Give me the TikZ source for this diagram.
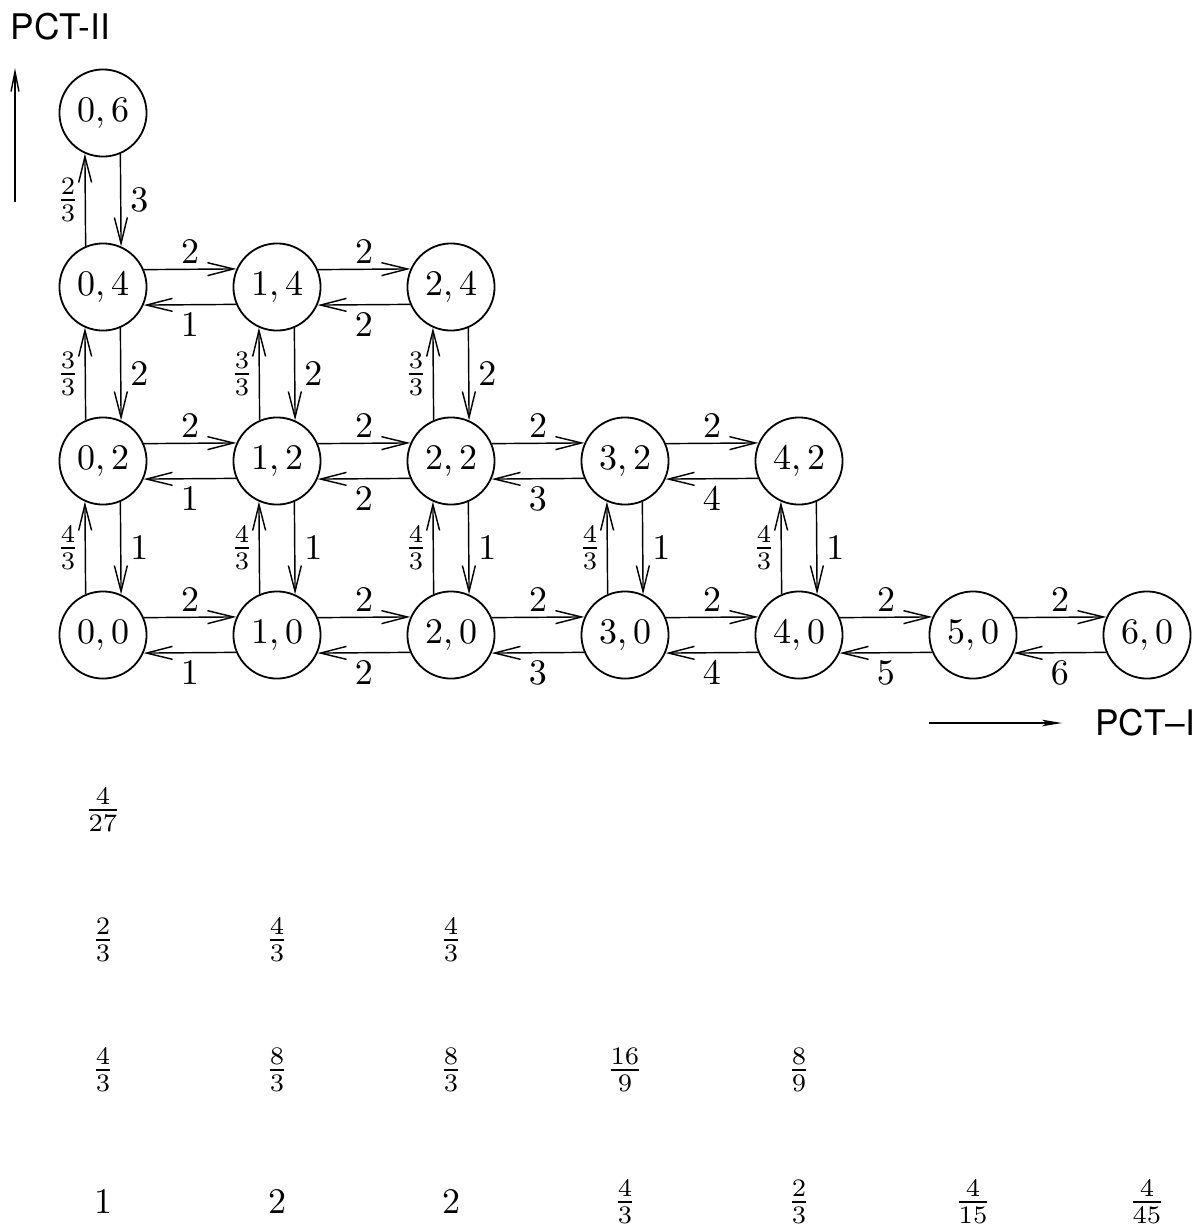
\documentclass[tikz,border=0pt]{standalone}
\usepackage{fontspec}
\newfontfamily\hvfont{TeX Gyre Heros}
\usetikzlibrary{arrows.meta}
\newcommand\hpair[4]{%
  \draw[tr] (#1.23.7) -- (#2.156.3) node[lu]{$#3$};
  \draw[tr] (#2.203.7) -- (#1.336.3) node[ld]{$#4$};}
\newcommand\vpair[4]{%
  \draw[tr] (#1.113.7) -- (#2.246.3) node[ll]{$#3$};
  \draw[tr] (#2.293.7) -- (#1.66.3) node[lr]{$#4$};}
\begin{document}
\begin{tikzpicture}[x=0.2778pt,y=-0.2778pt,
  st/.style={circle,draw,line width=0.5pt,minimum size=24.2pt,inner sep=0pt},
  tr/.style={line width=0.4pt,-{Straight Barb[length=7.2pt,width=3.6pt]}},
  lu/.style={midway,yshift=4.7pt},
  ld/.style={midway,yshift=-5.6pt},
  ll/.style={midway,xshift=-4.8pt},
  lr/.style={midway,xshift=5.2pt},
  ax/.style={font=\hvfont\fontsize{9.8}{11}\selectfont,inner sep=0pt},
  val/.style={inner sep=0pt}]
\useasboundingbox (0,0) rectangle (1198,1224);
% states
\node[st] (n00) at (103,635) {$0,0$};
\node[st] (n10) at (277,635) {$1,0$};
\node[st] (n20) at (451,635) {$2,0$};
\node[st] (n30) at (625,635) {$3,0$};
\node[st] (n40) at (799,635) {$4,0$};
\node[st] (n50) at (973,635) {$5,0$};
\node[st] (n60) at (1147,635) {$6,0$};
\node[st] (n02) at (103,461) {$0,2$};
\node[st] (n12) at (277,461) {$1,2$};
\node[st] (n22) at (451,461) {$2,2$};
\node[st] (n32) at (625,461) {$3,2$};
\node[st] (n42) at (799,461) {$4,2$};
\node[st] (n04) at (103,287) {$0,4$};
\node[st] (n14) at (277,287) {$1,4$};
\node[st] (n24) at (451,287) {$2,4$};
\node[st] (n06) at (103,113) {$0,6$};
% horizontal transitions
\hpair{n00}{n10}{2}{1}
\hpair{n10}{n20}{2}{2}
\hpair{n20}{n30}{2}{3}
\hpair{n30}{n40}{2}{4}
\hpair{n40}{n50}{2}{5}
\hpair{n50}{n60}{2}{6}
\hpair{n02}{n12}{2}{1}
\hpair{n12}{n22}{2}{2}
\hpair{n22}{n32}{2}{3}
\hpair{n32}{n42}{2}{4}
\hpair{n04}{n14}{2}{1}
\hpair{n14}{n24}{2}{2}
% vertical transitions
\vpair{n00}{n02}{\frac{4}{3}}{1}
\vpair{n02}{n04}{\frac{3}{3}}{2}
\vpair{n04}{n06}{\frac{2}{3}}{3}
\vpair{n10}{n12}{\frac{4}{3}}{1}
\vpair{n12}{n14}{\frac{3}{3}}{2}
\vpair{n20}{n22}{\frac{4}{3}}{1}
\vpair{n22}{n24}{\frac{3}{3}}{2}
\vpair{n30}{n32}{\frac{4}{3}}{1}
\vpair{n40}{n42}{\frac{4}{3}}{1}
% axes
\node[ax,anchor=west] (t2) at (10,27) {PCT-II};
\coordinate (ya) at (15,202);
\coordinate (yb) at (15,68);
\draw[line width=0.4pt,-{Straight Barb[length=5.5pt,width=2.2pt]}] (ya) -- (yb);
\coordinate (xa) at (929,723);
\coordinate (xb) at (1062,723);
\draw[line width=0.4pt,-{Stealth[length=5.5pt,width=1.8pt,inset=1.2pt]}] (xa) -- (xb);
\node[ax,anchor=east] (t1) at (1196,723) {PCT–I};
% values
\node[val] (f06) at (103,810) {$\frac{4}{27}$};
\node[val] (f04) at (103,940) {$\frac{2}{3}$};
\node[val] (f14) at (277,940) {$\frac{4}{3}$};
\node[val] (f24) at (451,940) {$\frac{4}{3}$};
\node[val] (f02) at (103,1070) {$\frac{4}{3}$};
\node[val] (f12) at (277,1070) {$\frac{8}{3}$};
\node[val] (f22) at (451,1070) {$\frac{8}{3}$};
\node[val] (f32) at (625,1070) {$\frac{16}{9}$};
\node[val] (f42) at (799,1070) {$\frac{8}{9}$};
\node[val] (f00) at (103,1202) {$1$};
\node[val] (f10) at (277,1202) {$2$};
\node[val] (f20) at (451,1202) {$2$};
\node[val] (f30) at (625,1202) {$\frac{4}{3}$};
\node[val] (f40) at (799,1202) {$\frac{2}{3}$};
\node[val] (f50) at (973,1202) {$\frac{4}{15}$};
\node[val] (f60) at (1147,1202) {$\frac{4}{45}$};
\end{tikzpicture}
\end{document}
